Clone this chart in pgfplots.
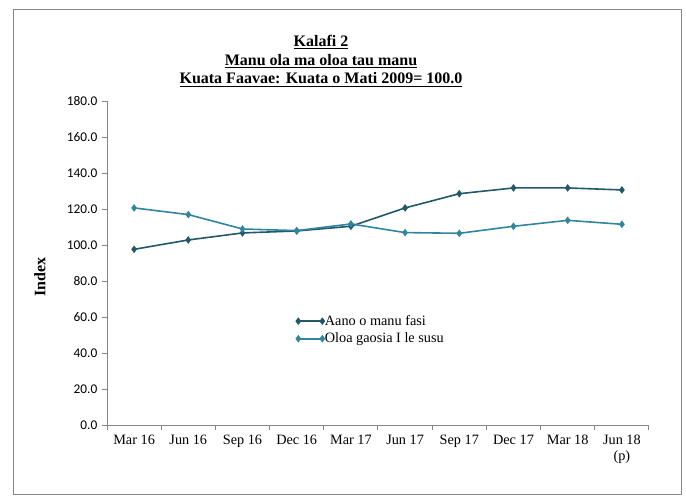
\documentclass[border=0pt]{standalone}
\usepackage{fontspec}
\setmainfont{Liberation Serif}
\newfontfamily\calibri{Carlito}
\usepackage{pgfplots}
\pgfplotsset{compat=1.18}
\definecolor{darkteal}{HTML}{215968}
\definecolor{lightteal}{HTML}{31859C}
\definecolor{axisgray}{HTML}{868686}

\begin{document}
\begin{tikzpicture}
% page and outer frame, laid out in pixel units with y downward
\begin{scope}[x=0.75pt,y=-0.75pt]
  \useasboundingbox (0,0) rectangle (686,496);
  \draw[axisgray, line width=0.75pt] (13.5,9.5) rectangle (681.5,494.5);
  \node[align=center, font=\bfseries\fontsize{12}{13.9}\selectfont] at (321,61)
    {\underline{Kalafi 2}\\\underline{Manu ola ma oloa tau manu}\\\underline{Kuata Faavae: Kuata o Mati 2009= 100.0}};
  \node[rotate=90, font=\bfseries\fontsize{12}{14}\selectfont] at (40,277) {Index};
\end{scope}

\begin{axis}[
  at={(80.25pt,-318.75pt)}, anchor=south west,
  scale only axis, width=406.5pt, height=243pt,
  xmin=-0.5, xmax=9.5, ymin=0, ymax=180,
  axis x line=bottom, axis y line=left,
  axis line style={axisgray, line width=0.75pt, -},
  ytick={0,20,...,180},
  xtick={0,...,9},
  xticklabels={Mar 16, Jun 16, Sep 16, Dec 16, Mar 17, Jun 17, Sep 17, Dec 17, Mar 18, {Jun 18\\(p)}},
  xticklabel style={align=center, font=\fontsize{10.7}{12}\selectfont, text=black},
  major x tick style={draw=none},
  minor xtick={-0.5,0.5,...,9.5},
  tick align=outside,
  major tick length=3.75pt, minor tick length=3.75pt,
  tick style={axisgray, line width=0.75pt},
  yticklabel style={font=\calibri\fontsize{10}{12}\selectfont, text=black,
    /pgf/number format/.cd, fixed, fixed zerofill, precision=1, assume math mode=true},
  legend style={draw=none, fill=none, at={(0.349,0.342)}, anchor=north west,
    font=\fontsize{10.7}{12}\selectfont, row sep=3.2pt, inner sep=0pt,
    nodes={inner sep=0.5pt}, cells={anchor=west}},
  legend image code/.code={\draw[#1, mark repeat=1] plot coordinates {(0pt,0pt) (18pt,0pt)};},
]
\addplot[darkteal, line width=1.2pt, mark=diamond*, mark size=1.9pt, mark options={solid}]
  coordinates {(0,97.6) (1,102.8) (2,106.7) (3,107.8) (4,110.4) (5,120.6) (6,128.5) (7,131.7) (8,131.7) (9,130.6)};
\addlegendentry{Aano o manu fasi}
\addplot[lightteal, line width=1.2pt, mark=diamond*, mark size=1.9pt, mark options={solid}]
  coordinates {(0,120.6) (1,116.9) (2,108.9) (3,108.0) (4,111.7) (5,106.9) (6,106.5) (7,110.4) (8,113.7) (9,111.5)};
\addlegendentry{Oloa gaosia I le susu}
\end{axis}
\end{tikzpicture}
\end{document}
